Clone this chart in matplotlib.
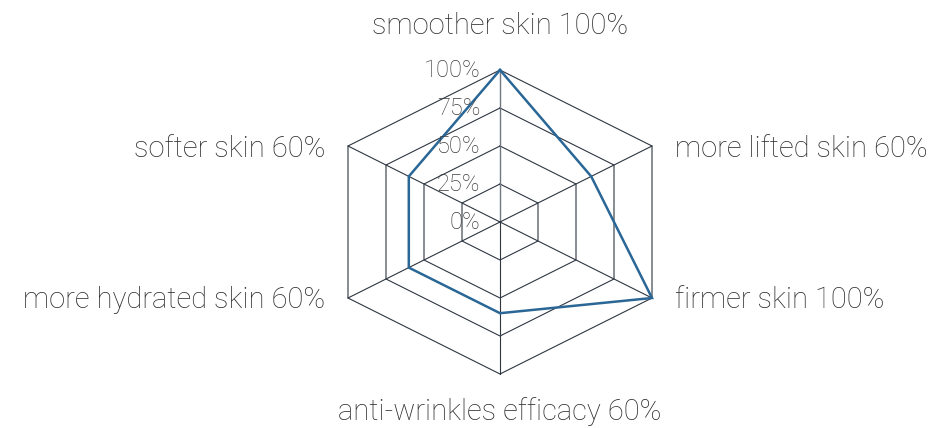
import numpy as np
import matplotlib
matplotlib.use("Agg")
import matplotlib.pyplot as plt

categories = ["smoother skin", "more lifted skin", "firmer skin",
              "anti-wrinkles efficacy", "more hydrated skin", "softer skin"]
values = [100, 60, 100, 60, 60, 60]
levels = [0, 25, 50, 75, 100]

GRID = "#2e3642"
SPOKE0 = "#6c7883"
LINE = "#2b6796"
TEXT = "#2c2c2c"
FONT = ["Roboto", "DejaVu Sans"]

W, H = 943, 428
fig = plt.figure(figsize=(W / 100, H / 100), dpi=100)
# centre at (500, 222) px, radius 152 px
ax = fig.add_axes([348 / W, (H - 374) / H, 304 / W, 304 / H])
ax.set_xlim(-1, 1)
ax.set_ylim(-1, 1)
ax.axis("off")

n = len(categories)
theta = np.arange(n) * 2 * np.pi / n
sx = np.sin(theta) / np.sin(np.pi / 3)
cy = np.cos(theta)

# grid hexagons
for lv in levels[1:]:
    r = lv / 100
    ax.plot(np.append(sx, sx[0]) * r, np.append(cy, cy[0]) * r,
            color=GRID, lw=0.8, solid_joinstyle="miter", clip_on=False)
# spokes
for i in range(n):
    ax.plot([0, sx[i]], [0, cy[i]], color=SPOKE0 if i == 0 else GRID,
            lw=1.0 if i == 0 else 0.8, clip_on=False)

# data
r = np.array(values) / 100
ax.plot(np.append(sx * r, sx[0] * r[0]), np.append(cy * r, cy[0] * r[0]),
        color=LINE, lw=1.8, solid_joinstyle="miter", clip_on=False)

# tick labels
for lv in levels:
    ax.text(-0.13, lv / 100, f"{lv}%", ha="right", va="center",
            fontsize=17, color="#3c3c3c", family=FONT, fontweight="light")

# category labels
offsets = [(0, 1.29, "center"), (1.15, 0.48, "left"), (1.15, -0.51, "left"),
           (0, -1.25, "center"), (-1.15, -0.51, "right"), (-1.15, 0.48, "right")]
for (x, y, ha), cat, v in zip(offsets, categories, values):
    ax.text(x, y, f"{cat} {v}%", ha=ha, va="center", fontsize=21,
            color=TEXT, family=FONT, fontweight="light")

fig.savefig("out.png", dpi=100)
